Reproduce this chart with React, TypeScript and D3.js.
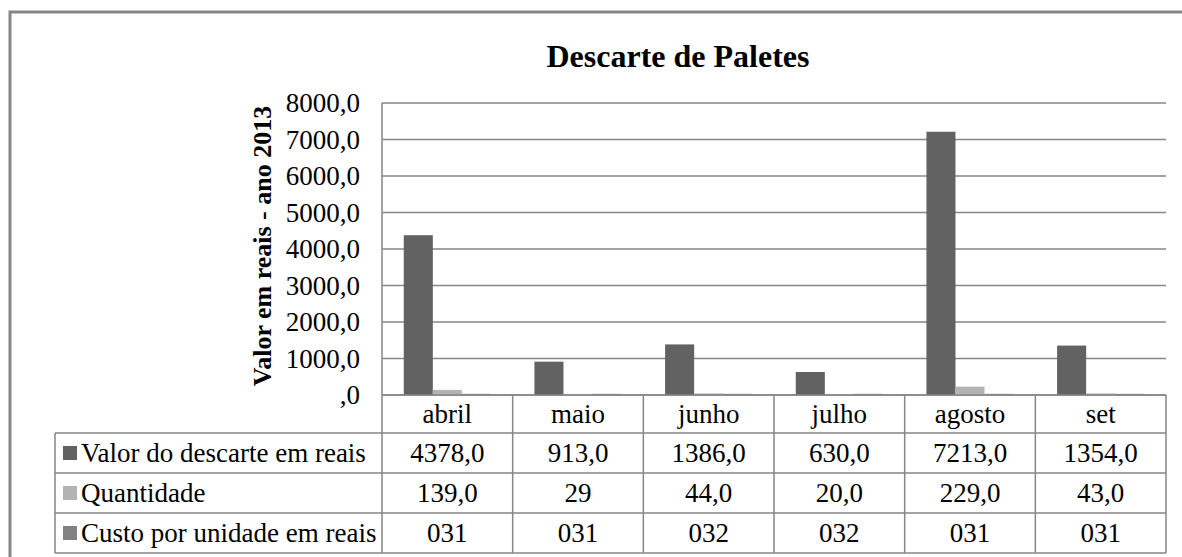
import React from "react";
import * as d3 from "d3";

const categories = ["abril", "maio", "junho", "julho", "agosto", "set"];
const valorDescarte = [4378, 913, 1386, 630, 7213, 1354];
const quantidade = [139, 29, 44, 20, 229, 43];
const custoUnidade = [31, 31, 32, 32, 31, 31];
const valorLabels = ["4378,0", "913,0", "1386,0", "630,0", "7213,0", "1354,0"];
const quantidadeLabels = ["139,0", "29", "44,0", "20,0", "229,0", "43,0"];
const custoLabels = ["031", "031", "032", "032", "031", "031"];
const seriesNames = ["Valor do descarte em reais", "Quantidade", "Custo por unidade em reais"];
const yTicks = [0, 1000, 2000, 3000, 4000, 5000, 6000, 7000, 8000];
const title = "Descarte de Paletes";
const yTitle = "Valor em reais - ano 2013";

const colors = ["#626262", "#b3b3b3", "#818181"];
const grid = "#868686";
const FONT = "'Times New Roman', serif";

export default function App() {
  const W = 1182, H = 557;
  const left = 382, right = 1166, top = 103, bottom = 395;
  const tableLeft = 55;
  const rowEdges = [395, 433, 473, 513, 553];

  const y = d3.scaleLinear().domain([0, 8000]).range([bottom, top]);
  const x = d3.scaleBand<string>().domain(categories).range([left, right]).paddingInner(0).paddingOuter(0);
  const seriesData = [valorDescarte, quantidade, custoUnidade];
  const seriesLabels = [valorLabels, quantidadeLabels, custoLabels];
  const bw = x.bandwidth();
  const barW = bw / 4.5;
  const xs = d3.scaleBand<number>().domain([0, 1, 2]).range([0.75 * barW, bw - 0.75 * barW]).padding(0);

  const fmt = (v: number) => (v === 0 ? ",0" : d3.format(".1f")(v).replace(".", ","));
  const ts: React.CSSProperties = { fontFamily: FONT };

  return (
    <div style={{ position: "absolute", left: 0, top: 0 }}>
      <svg width={W} height={H} style={{ display: "block", background: "#fff" }}>
        <text x={30} y={30} fontSize={26} opacity={0} style={{ fontFamily: "'Liberation Serif'" }}>.</text>
        <rect x={10} y={12} width={1200} height={620} fill="none" stroke={grid} strokeWidth={3} />
        <text style={ts} x={678} y={67} textAnchor="middle" fontSize={32} fontWeight="bold">{title}</text>
        <text style={ts} transform={`translate(271,${(top + bottom) / 2 - 3}) rotate(-90)`} textAnchor="middle" fontSize={26} fontWeight="bold">{yTitle}</text>
        {yTicks.map((t) => (
          <line key={"g" + t} x1={left} x2={right} y1={y(t)} y2={y(t)} stroke={grid} strokeWidth={1.5} />
        ))}
        {yTicks.map((t) => (
          <text key={"t" + t} style={ts} x={360} y={y(t) + 9} textAnchor="end" fontSize={27}>{fmt(t)}</text>
        ))}
        <line x1={left} x2={left} y1={top} y2={bottom} stroke={grid} strokeWidth={1.5} />
        {categories.map((c, i) => (
          <g key={c}>
            {seriesData.map((s, k) => (
              <rect key={k} x={(x(c) as number) + (xs(k) as number)} y={y(s[i])} width={xs.bandwidth()} height={bottom - y(s[i])} fill={colors[k]} />
            ))}
          </g>
        ))}
        {rowEdges.map((ry, r) => (
          <line key={r} x1={r === 0 ? left : tableLeft} x2={right} y1={ry} y2={ry} stroke={grid} strokeWidth={1.5} />
        ))}
        <line x1={tableLeft} x2={tableLeft} y1={rowEdges[1]} y2={rowEdges[4]} stroke={grid} strokeWidth={1.5} />
        {categories.map((c) => (
          <line key={c} x1={x(c) as number} x2={x(c) as number} y1={rowEdges[0]} y2={rowEdges[4]} stroke={grid} strokeWidth={1.5} />
        ))}
        <line x1={right} x2={right} y1={rowEdges[0]} y2={rowEdges[4]} stroke={grid} strokeWidth={1.5} />
        {categories.map((c) => (
          <text style={ts} key={c} x={(x(c) as number) + bw / 2} y={(rowEdges[0] + rowEdges[1]) / 2 + 9} textAnchor="middle" fontSize={27}>{c}</text>
        ))}
        {seriesNames.map((n, k) => {
          const cy = (rowEdges[k + 1] + rowEdges[k + 2]) / 2;
          return (
            <g key={n}>
              <rect x={63} y={cy - 7} width={14} height={14} fill={colors[k]} />
              <text style={ts} x={81} y={cy + 9} fontSize={27}>{n}</text>
              {categories.map((c, i) => (
                <text style={ts} key={c} x={(x(c) as number) + bw / 2} y={cy + 9} textAnchor="middle" fontSize={27}>{seriesLabels[k][i]}</text>
              ))}
            </g>
          );
        })}
      </svg>
    </div>
  );
}
